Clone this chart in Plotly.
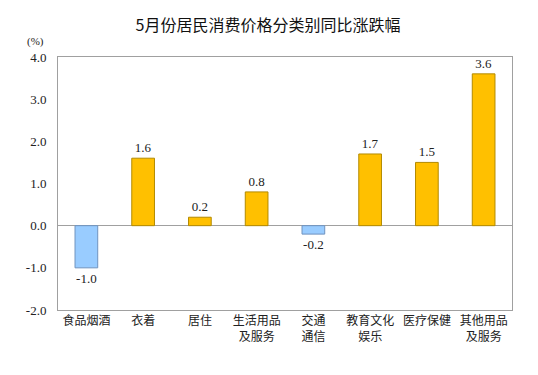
import plotly.graph_objects as go

categories = ["食品烟酒", "衣着", "居住", "生活用品<br>及服务", "交通<br>通信", "教育文化<br>娱乐", "医疗保健", "其他用品<br>及服务"]
values = [-1.0, 1.6, 0.2, 0.8, -0.2, 1.7, 1.5, 3.6]
y_ticks = [-2.0, -1.0, 0.0, 1.0, 2.0, 3.0, 4.0]
y_ticktext = ["-2.0", "-1.0", "0.0", "1.0", "2.0", "3.0", "4.0"]

colors = ["#99CCFF" if v < 0 else "#FFC000" for v in values]
lines = ["#6F93BF" if v < 0 else "#B38A00" for v in values]

fig = go.Figure(go.Bar(
    x=list(range(len(categories))), y=values,
    marker=dict(color=colors, line=dict(color=lines, width=1)),
    width=0.4,
    text=[f"{v:.1f}" for v in values], textposition="outside",
    textfont=dict(family="Liberation Serif", size=13, color="#222"),
    cliponaxis=False,
))

W, H = 530, 367
L, R, T, B = 50, 26, 49, 65
PW, PH = W - L - R, H - T - B
fig.update_layout(
    width=W, height=H,
    margin=dict(l=L, r=R, t=T, b=B),
    plot_bgcolor="white", paper_bgcolor="white",
    showlegend=False,
    title=dict(text="5月份居民消费价格分类别同比涨跌幅", x=(268 - 8) / W, xanchor="center",
               y=1 - (25 - 8) / H, yanchor="middle",
               font=dict(family="Noto Sans CJK SC", size=16, color="#111")),
    xaxis=dict(range=[-0.5, 7.5], tickmode="array", tickvals=list(range(len(categories))), ticktext=categories,
               showline=True, linecolor="#A0A0A0", linewidth=1, mirror=True, showgrid=False, zeroline=False,
               ticks="", tickfont=dict(family="Noto Sans CJK SC", size=12, color="#222")),
    yaxis=dict(range=[-2.0, 4.0], tickmode="array", tickvals=y_ticks, ticktext=y_ticktext,
               showline=True, linecolor="#A0A0A0", linewidth=1, mirror=True, showgrid=False,
               zeroline=True, zerolinecolor="#A0A0A0", zerolinewidth=1,
               ticks="", ticklabelstandoff=8, tickfont=dict(family="Liberation Serif", size=13, color="#222")),
    annotations=[dict(text="(%)", xref="paper", yref="paper",
                      x=((35 - 8) - L) / PW, y=1 + (T - (42 - 8)) / PH,
                      xanchor="center", yanchor="middle", showarrow=False,
                      font=dict(family="Liberation Serif", size=11, color="#222"))],
)
fig.write_html("out.html")
